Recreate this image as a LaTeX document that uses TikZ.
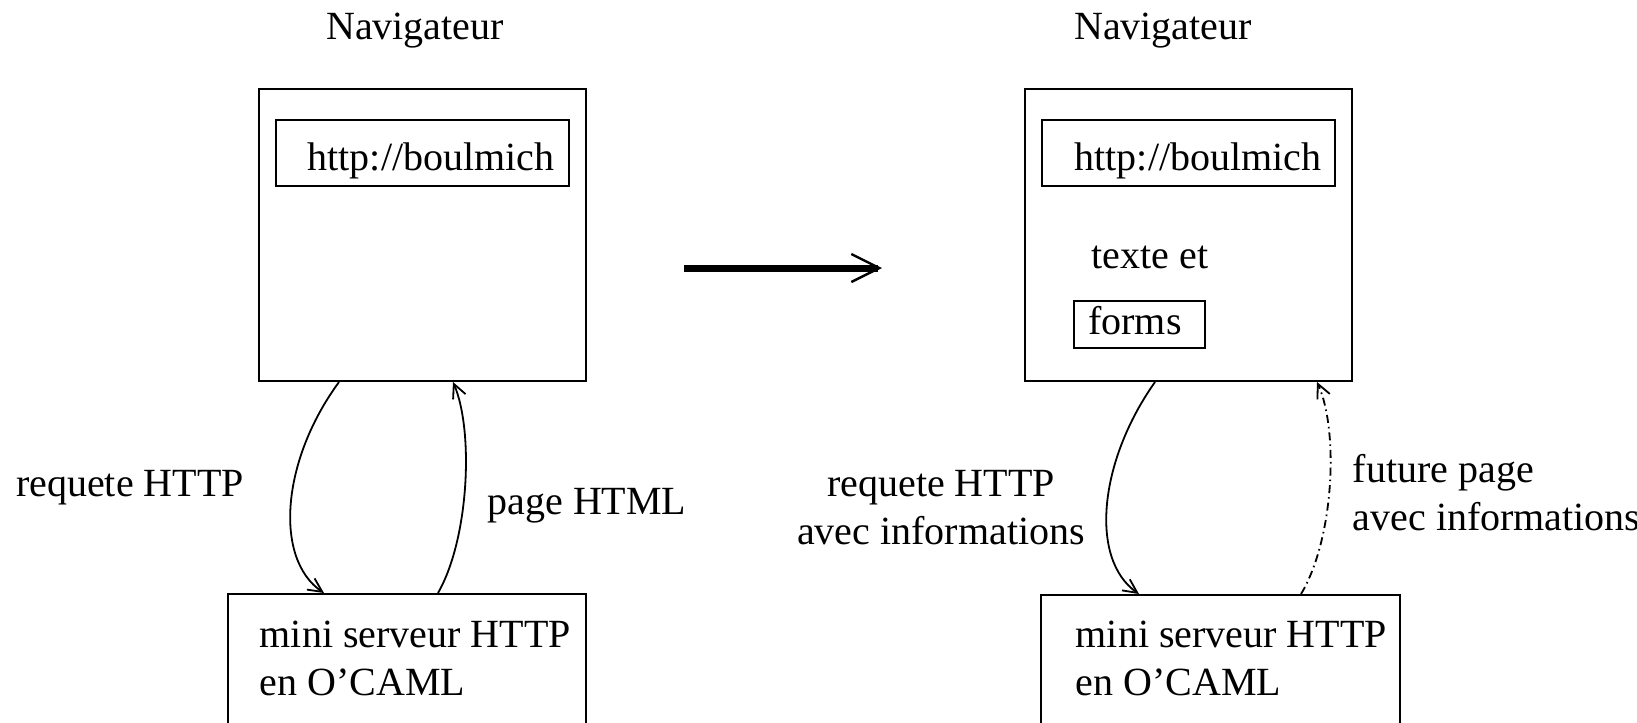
\documentclass[tikz,border=0pt]{standalone}
\usepackage{fontspec}
\setmainfont{Liberation Serif}
\usetikzlibrary{arrows.meta,calc}

\begin{document}
\begin{tikzpicture}[x=0.25pt,y=-0.25pt,
  box/.style={draw,line width=0.5pt,inner sep=0pt},
  txt/.style={inner sep=0pt},
  link/.style={line width=0.45pt,-{Straight Barb[length=3.5pt,width=3.4pt]}}]
\clip (0,0) rectangle (1637,722);

% avant
\node[txt] (titleL) at (415,31) {Navigateur};
\node[box, minimum width=81.75pt, minimum height=73pt] (navL) at (422.5,235) {};
\node[box, minimum width=73.25pt, minimum height=16.5pt] (urlL) at (422.5,153) {};
\node[txt] (urltxtL) at (431,160.5) {http://boulmich};
\node[box, minimum width=89.5pt, minimum height=50pt] (servL) at (407,694) {};
\node[txt, anchor=west, align=left] (servtxtL) at (259,658) {mini serveur HTTP\\en O'CAML};
\draw[link] ($(navL.south west)+(81,0)$) .. controls +(-58,79) and +(-50,-34) .. ($(servL.north west)+(97,0)$);
\draw[link] ($(servL.north west)+(211,0)$) .. controls +(31,-54) and +(21,49) .. ($(navL.south west)+(195,0)$);
\node[txt] (reqL) at (130,488) {requete HTTP};
\node[txt] (pageL) at (587,506) {page HTML};

% fleche
\coordinate (go) at (684,268);
\coordinate (gone) at (882,268);
\draw[line width=1.75pt,-{Straight Barb[length=7pt,width=7pt,line width=0.6pt]}] (go) -- (gone);

% apres
\node[txt] (titleR) at (1163,31) {Navigateur};
\node[box, minimum width=81.75pt, minimum height=73pt] (navR) at (1188.5,235) {};
\node[box, minimum width=73.25pt, minimum height=16.5pt] (urlR) at (1188.5,153) {};
\node[txt] (urltxtR) at (1198,160.5) {http://boulmich};
\node[txt, anchor=west] (texte) at (1091,257) {texte et};
\node[box, minimum width=32.75pt, minimum height=11.75pt] (forms) at (1139.5,324.5) {};
\node[txt] (formstxt) at (1135,320.5) {forms};
\node[box, minimum width=89.75pt, minimum height=50pt] (servR) at (1220.5,695) {};
\node[txt, anchor=west, align=left] (servtxtR) at (1075,658) {mini serveur HTTP\\en O'CAML};
\draw[link] ($(navR.south west)+(131,0)$) .. controls +(-56,79) and +(-50,-35) .. ($(servR.north west)+(99,0)$);
\draw[link, dash pattern=on 2pt off 1pt on 0.4pt off 1pt] ($(servR.north west)+(261,0)$) .. controls +(33,-55) and +(22,49) .. ($(navR.south west)+(293,0)$);
\node[txt, align=center] (reqR) at (941,508) {requete HTTP\\avec informations};
\node[txt, anchor=west, align=left] (pageR) at (1352,493) {future page\\avec informations};
\end{tikzpicture}
\end{document}
